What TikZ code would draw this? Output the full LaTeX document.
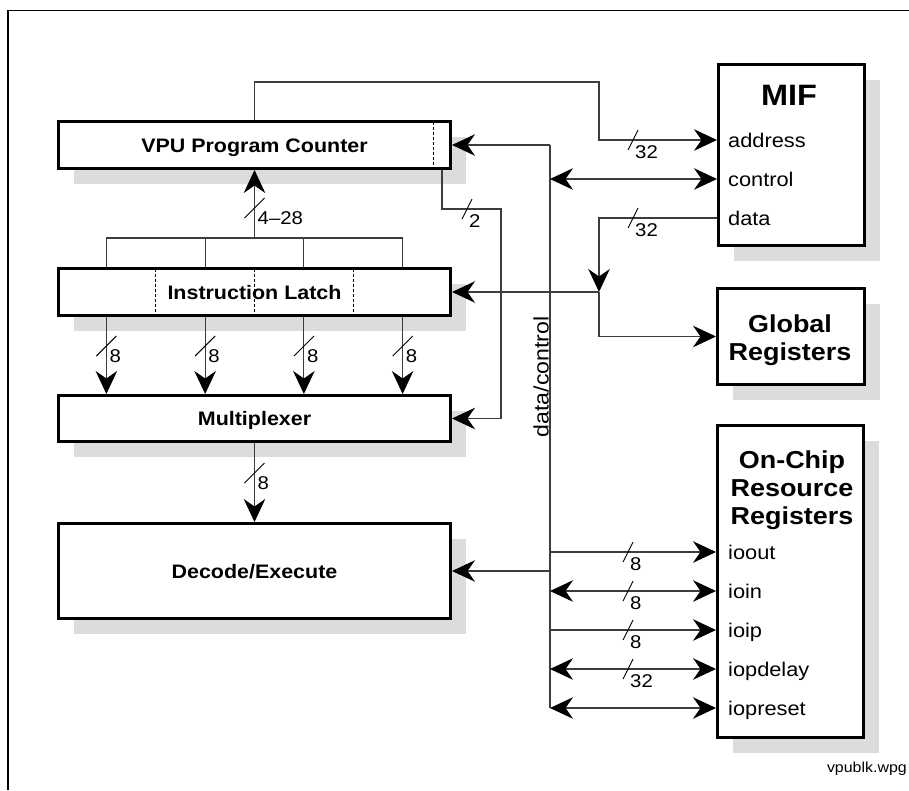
\documentclass[tikz,border=0pt]{standalone}
\usepackage{fontspec}
\setmainfont{Liberation Sans}[FakeStretch=1.1]
\usetikzlibrary{arrows.meta,shadows,calc}
\definecolor{shadowgray}{RGB}{220,220,220}
\definecolor{wirecol}{RGB}{60,60,60}

\begin{document}
\begin{tikzpicture}[x=1pt,y=-1pt,
  >={Stealth[length=23pt,width=21.5pt,inset=7.5pt,color=black]},
  box/.style={draw, line width=3pt, fill=white, rectangle, inner sep=0pt,
    drop shadow={shadow xshift=15.5pt, shadow yshift=-15.5pt, fill=shadowgray, opacity=1}},
  boxtxt/.style={font=\fontsize{19.5pt}{22pt}\selectfont\bfseries, text height=14pt, text depth=0pt},
  titletxt/.style={font=\fontsize{24.5pt}{28pt}\selectfont\bfseries, anchor=base, inner sep=0pt},
  miftxt/.style={font=\fontsize{29.5pt}{32pt}\selectfont\bfseries, anchor=base, inner sep=0pt},
  pintxt/.style={font=\fontsize{19.8pt}{22pt}\selectfont, text height=14.2pt, text depth=0pt, inner sep=0pt, anchor=west},
  buslbl/.style={font=\fontsize{18.5pt}{20pt}\selectfont, inner sep=0pt},
  wire/.style={draw=wirecol, line width=1.1pt},
  tick/.style={draw=black, line width=0.9pt},
  sep/.style={draw=black, line width=0.9pt, dash pattern=on 3pt off 2pt},
  pics/hslash/.style={code={
    \draw[tick] (-5,10) -- (5,-10);
    \node[buslbl, anchor=west] (-n) at (2,12.5) {#1};
  }},
  pics/vslash/.style={code={
    \draw[tick] (-10,10) -- (10,-10);
    \node[buslbl, anchor=west] (-n) at (3,10.5) {#1};
  }},
]
\useasboundingbox (0,0) rectangle (909,790);

% outer frame (top and left edges only)
\draw[line width=1.6pt] (909,10.5) -- (8,10.5) -- (8,790);

% processor-side blocks
\node[box, boxtxt, minimum width=392pt, minimum height=47pt] (pc)  at (254.5,145)   {VPU Program Counter};
\node[box, boxtxt, minimum width=392pt, minimum height=47pt] (il)  at (254.5,292)   {Instruction Latch};
\node[box, boxtxt, minimum width=392pt, minimum height=46pt] (mux) at (254.5,418.5) {Multiplexer};
\node[box, boxtxt, minimum width=392pt, minimum height=95pt] (dec) at (254.5,571)   {Decode/Execute};

% dividers inside the latch and the counter
\foreach \f in {0.25,0.5,0.75}
  \draw[sep] ($(il.north west)!\f!(il.north east)+(0,1.5)$) -- ($(il.south west)!\f!(il.south east)+(0,-1.5)$);
\draw[sep] ($(pc.north east)+(-19,1.5)$) -- ($(pc.south east)+(-19,-1.5)$);

% memory interface
\node[box, minimum width=146pt, minimum height=181pt] (mif) at (791.5,155) {};
\node[miftxt] (miftitle) at (789,105) {MIF};
\node[pintxt] (address) at (728,140) {address};
\node[pintxt] (control) at (728,179) {control};
\node[pintxt] (data)    at (728,218) {data};

% global registers
\node[box, minimum width=147pt, minimum height=96pt] (glb) at (791,336.5) {};
\node[titletxt] (glbA) at (790,332) {Global};
\node[titletxt] (glbB) at (790,360) {Registers};

% on-chip resource registers
\node[box, minimum width=146pt, minimum height=312pt] (ocr) at (790.5,581.5) {};
\node[titletxt] (ocrA) at (792,468) {On-Chip};
\node[titletxt] (ocrB) at (792,496) {Resource};
\node[titletxt] (ocrC) at (792,524) {Registers};
\node[pintxt] (ioout)    at (728,552) {ioout};
\node[pintxt] (ioin)     at (728,591) {ioin};
\node[pintxt] (ioip)     at (728,630) {ioip};
\node[pintxt] (iopdelay) at (728,669) {iopdelay};
\node[pintxt] (iopreset) at (728,708) {iopreset};

% data/control bus
\coordinate (busTop) at (550,145);
\draw[wire] (busTop) -- (busTop |- iopreset);
\draw[wire,->] (busTop) -- (pc.east);
\draw[wire,<->] (busTop |- control) -- (mif.west |- control);
\draw[wire,->] (busTop |- dec.east) -- (dec.east);
\draw[wire,->] (busTop |- ioout) -- (ocr.west |- ioout);
\draw[wire,<->] (busTop |- ioin) -- (ocr.west |- ioin);
\draw[wire,->] (busTop |- ioip) -- (ocr.west |- ioip);
\draw[wire,<->] (busTop |- iopdelay) -- (ocr.west |- iopdelay);
\draw[wire,<->] (busTop |- iopreset) -- (ocr.west |- iopreset);
\node[font=\fontsize{21pt}{24pt}\selectfont, rotate=90, anchor=south, inner sep=0.5pt] (dcl) at (549.5,377) {data/control};

% address path from the counter to the MIF
\coordinate (aTurn) at (599,82);
\draw[wire,->] (pc.north) |- (aTurn) |- (mif.west |- address);

% data path from the MIF
\coordinate (dSplit) at (aTurn |- il.east);
\draw[wire,->] (mif.west |- data) -| (dSplit);
\draw[wire,->] (dSplit) -- (il.east);
\draw[wire,->] (dSplit) |- (glb.west);

% 2-bit select from the counter to the multiplexer
\coordinate (pcTap) at ($(pc.south east)+(-10,0)$);
\coordinate (sTurn) at (501,209);
\draw[wire,->] (pcTap) |- (sTurn) |- (mux.east);

% latch fields fed back to the counter
\coordinate (fan) at ($(il.north)+(0,-29)$);
\foreach \f/\n in {0.125/a,0.375/b,0.625/c,0.875/d} {
  \coordinate (ilt\n) at ($(il.north west)!\f!(il.north east)$);
  \coordinate (ilb\n) at ($(il.south west)!\f!(il.south east)$);
}
\draw[wire] (ilta) |- (fan) -| (iltd);
\draw[wire] (iltb) -- (iltb |- fan);
\draw[wire] (iltc) -- (iltc |- fan);
\draw[wire,->] (fan) -- (pc.south);

% latch bytes into the multiplexer
\foreach \n in {a,b,c,d}
  \draw[wire,->] (ilb\n) -- (ilb\n |- mux.north);
\draw[wire,->] (mux.south) -- (dec.north);

% bus width marks
\pic (wAddr) at (633,140) {hslash=32};
\pic (wData) at (633,218) {hslash=32};
\pic (wSel)  at (467,209) {hslash=2};
\pic (wFb)   at (254.5,208) {vslash=4–28};
\foreach \n in {a,b,c,d}
  \pic (wIl\n) at ($(ilb\n)+(0,29)$) {vslash=8};
\pic (wDec)  at (254.5,473) {vslash=8};
\pic (wOut)  at (628,552) {hslash=8};
\pic (wIn)   at (628,591) {hslash=8};
\pic (wIp)   at (628,630) {hslash=8};
\pic (wDly)  at (628,669) {hslash=32};

\node[font=\fontsize{14.5pt}{16pt}\selectfont, anchor=base east, inner sep=0pt] (fname) at (907,772) {vpublk.wpg};
\end{tikzpicture}
\end{document}
